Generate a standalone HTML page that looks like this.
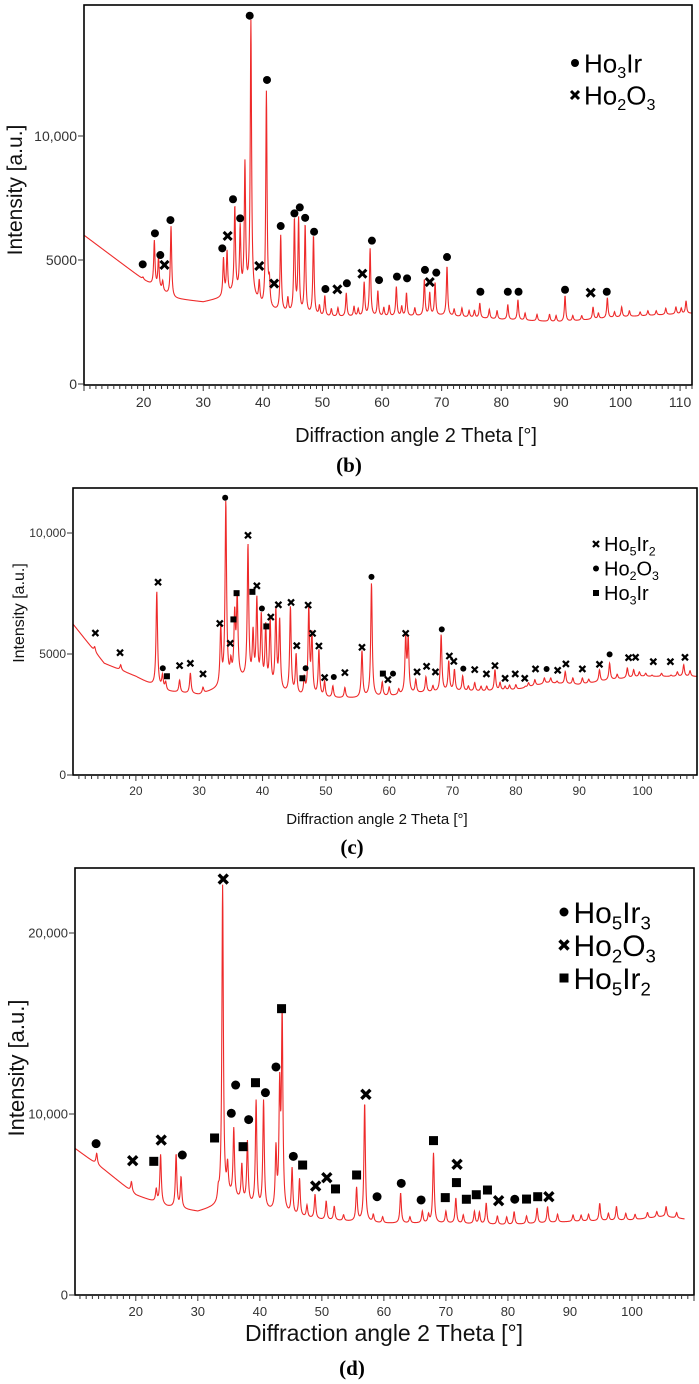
<!DOCTYPE html>
<html><head><meta charset="utf-8">
<style>
html,body{margin:0;padding:0;background:#fff;}
svg{display:block;}
text{font-family:"Liberation Sans",sans-serif;}
.ser{font-family:"Liberation Serif",serif;font-weight:bold;}
</style></head>
<body>
<svg id="fig" width="699" height="1384" viewBox="0 0 699 1384" xmlns="http://www.w3.org/2000/svg"></svg>
<script>
// ---------- Panel (b) data ----------
const bBaseX = [10,20,25,30,33,35,38,40,45,50,60,70,80,90,100,112];
const bBaseY = [6000,4200,3450,3300,3450,3650,3550,3000,2800,2700,2700,2750,2600,2500,2700,2850];
const bPeakX = [19.9,21.8,22.5,23.2,24.6,33.4,34.0,35.3,36.2,37.0,38.0,39.4,40.6,41.1,43.0,45.3,46.0,47.1,48.5,50.4,52.6,54.0,55.3,57.0,58.0,59.3,61.2,62.4,64.1,67.1,68.0,68.9,70.9,76.4,81.1,82.8,90.7,95.4,97.8,100.2,111,
  44.2,49.5,51.5,56.0,60.3,63.3,65.5,72.1,73.4,74.6,75.5,78.0,79.3,84.0,86.0,88.1,89.2,92.0,93.5,96.3,99.0,101.5,103.3,104.6,106.0,107.6,109.3,110.2];
const bPeakY = [4300,5750,5070,4100,6350,5000,5270,7080,6200,8760,14540,4000,11700,3900,5940,6550,6550,6350,5940,3520,3050,3650,3100,4060,5430,3720,3150,3900,3650,4190,3650,4060,4730,3250,3190,3390,3550,3100,3470,3100,3350,
  3400,3100,3000,3000,3050,3100,3050,3000,3050,2950,2950,3000,2950,2850,2800,2800,2750,2750,2750,2850,2900,2950,2900,2950,2950,3050,3100,3050];
const bMarkX = [19.85,21.9,22.8,23.5,24.5,33.2,34.1,35.0,36.2,37.8,39.4,40.7,41.9,43.0,45.3,46.2,47.1,48.6,50.5,52.5,54.1,56.7,58.3,59.5,62.5,64.2,67.2,68.0,69.1,70.9,76.5,81.1,82.9,90.7,95.0,97.7];
const bMarkY = [4825,6075,5200,4800,6610,5470,5970,7450,6680,14850,4760,12260,4050,6370,6880,7120,6700,6140,3830,3820,4060,4450,5780,4190,4330,4260,4600,4110,4490,5120,3720,3720,3720,3800,3680,3720];
const bMarkT = ['o','o','o','x','o','o','x','o','o','o','x','o','x','o','o','o','o','o','o','x','o','x','o','o','o','o','o','x','o','o','o','o','o','o','x','o'];
const bXTicks = [20,30,40,50,60,70,80,90,100,110];
const bYTicks = [0,5000,10000];
const bYLabels = ['0','5000','10,000'];

// ---------- Panel (c) data ----------
const cBaseX = [10,15,20,23,25,30,33,36,40,45,50,55,60,65,70,75,80,85,90,95,100,108.7];
const cBaseY = [6260,4615,4070,3650,3450,3310,3550,4000,3600,3240,3170,3170,3240,3380,3450,3450,3520,3800,3730,3930,4070,4070];
const cPeakX = [13.5,17.6,23.3,24.2,24.7,26.9,28.6,30.6,33.4,34.2,35.0,35.6,36.0,37.7,38.5,39.1,39.8,40.5,41.2,42.1,42.7,44.4,45.3,46.6,47.3,47.8,48.9,49.8,51.1,53.0,55.7,57.2,58.9,60.0,62.6,63.0,64.2,65.8,68.2,69.4,70.3,71.6,73.5,75.4,76.7,78.3,80.0,81.5,83.0,84.5,86.5,87.8,90.5,93.2,94.8,97.6,98.6,101.5,104.5,106.5,
  61.5,66.9,72.5,74.5,77.5,79.0,82.0,85.5,89.0,91.5,96.0,99.5,100.5,103.0,105.5,107.5];
const cPeakY = [5300,4550,7570,4070,3800,3900,4200,3600,5990,11210,4480,6470,7200,9400,5700,7090,6400,6000,6260,6680,6260,6880,4890,3900,6810,5650,5100,3800,3650,3590,5100,7910,3800,3600,5580,5520,3900,4030,5780,4670,4330,4070,3800,3650,4340,3650,3720,3650,3930,4000,3870,4270,4000,4340,4615,4410,4340,4120,4120,4550,
  3500,3650,3650,3650,3800,3700,3800,4000,4000,3950,4150,4250,4200,4200,4250,4300];
const cMarkX = [13.6,17.5,23.5,24.25,24.9,26.9,28.6,30.6,33.25,34.1,34.9,35.4,35.9,37.7,38.4,39.1,39.9,40.6,41.3,42.5,44.5,45.4,46.8,46.3,47.2,47.9,48.9,49.8,51.25,53.0,55.7,57.2,59.0,59.8,60.6,62.6,64.4,65.9,67.3,68.3,69.5,70.2,71.7,73.5,75.35,76.7,78.3,79.9,81.4,83.1,84.85,86.6,87.9,90.5,93.2,94.8,97.8,98.9,101.7,104.4,106.7];
const cMarkY = [5865,5055,7967,4409,4080,4519,4615,4176,6264,11456,5440,6429,7514,9904,7569,7816,6882,6140,6525,7033,7129,5343,4409,3997,7019,5852,5330,4025,4052,4231,5275,8187,4190,3942,4190,5852,4258,4492,4258,6016,4918,4698,4396,4354,4176,4519,3997,4176,3997,4382,4382,4327,4588,4382,4574,4986,4849,4863,4684,4684,4863];
const cMarkT = ['x','x','x','o','s','x','x','x','x','o','x','s','s','x','s','x','o','s','x','x','x','x','o','s','x','x','x','x','o','x','x','o','s','x','o','x','x','x','x','o','x','x','o','x','x','x','x','x','x','x','o','x','x','x','x','o','x','x','x','x','x'];
const cXTicks = [20,30,40,50,60,70,80,90,100];
const cYTicks = [0,5000,10000];
const cYLabels = ['0','5000','10,000'];

// ---------- Panel (d) data ----------
const dBaseX = [10.2,15,20,25,30,33,35,40,45,50,55,60,70,80,90,100,105,110];
const dBaseY = [8100,6900,5525,4880,4600,4880,5430,4700,4330,4140,4050,3960,3960,3870,4050,4140,4330,4140];
const dPeakX = [13.7,19.3,23.3,24.0,26.5,27.3,33.3,34.0,34.8,35.8,37.1,38.0,39.4,40.6,42.6,43.2,43.6,45.2,46.4,48.9,50.7,52.0,55.6,56.9,62.7,66.2,68.0,70.0,71.6,74.6,76.5,81.0,84.7,86.4,90.5,94.8,97.5,105.5,
  47.6,53.5,58.3,59.8,64.2,67.2,72.8,75.4,78.3,79.8,83.0,88.0,91.8,93.0,96.2,99.0,100.5,102.5,104.0,107.2];
const dPeakY = [7830,6260,5800,7730,7730,6450,5520,22560,6900,9080,7100,8380,10630,10630,7830,10920,15190,6900,6350,5520,5160,4880,5890,10590,5620,4600,7830,4600,5340,4600,5060,4600,4790,4880,4420,5060,4880,4880,
  4900,4400,4400,4300,4300,4400,4400,4550,4350,4300,4350,4450,4400,4450,4500,4500,4450,4550,4600,4550];
const dMarkX = [13.6,19.5,22.9,24.1,27.5,32.7,34.1,35.4,36.1,37.3,38.2,39.3,40.9,42.6,43.5,45.4,46.9,49.0,50.8,52.2,55.6,57.1,58.9,62.8,66.0,68.0,69.9,71.8,71.7,73.3,74.9,76.7,78.5,81.1,83.0,84.8,86.6];
const dMarkY = [8360,7420,7385,8560,7735,8675,22980,10040,11600,8195,9690,11730,11180,12600,15820,7660,7180,6020,6480,5860,6630,11090,5430,6170,5250,8530,5380,7220,6210,5290,5540,5800,5210,5290,5300,5430,5430];
const dMarkT = ['o','x','s','x','o','s','x','o','o','s','o','s','o','o','s','o','s','x','x','s','s','x','o','o','o','s','s','x','s','s','s','s','x','o','s','s','x'];
const dXTicks = [20,30,40,50,60,70,80,90,100];
const dYTicks = [0,10000,20000];
const dYLabels = ['0','10,000','20,000'];

const NS = 'http://www.w3.org/2000/svg';
const fig = document.getElementById('fig');
function mk(tag, attrs, parent){
  const e = document.createElementNS(NS, tag);
  for (const k in attrs) e.setAttribute(k, attrs[k]);
  (parent||fig).appendChild(e);
  return e;
}
function interp(xs, ys, x){
  if (x <= xs[0]) return ys[0];
  for (let i=1;i<xs.length;i++){ if (x <= xs[i]) { const t=(x-xs[i-1])/(xs[i]-xs[i-1]); return ys[i-1]+t*(ys[i]-ys[i-1]); } }
  return ys[ys.length-1];
}
function drawMarker(g, t, px, py, r){
  let m;
  if (t==='o'){ m = mk('circle',{cx:px,cy:py,r:r,fill:'#000'},g); }
  else if (t==='s'){ m = mk('rect',{x:px-r,y:py-r,width:2*r,height:2*r,fill:'#000'},g); }
  else { m = mk('path',{d:`M${px-r},${py-r}L${px+r},${py+r}M${px+r},${py-r}L${px-r},${py+r}`,stroke:'#000','stroke-width':r*0.75,fill:'none'},g); }
  
  
}
function panel(c){
  const g = mk('g',{});
  
  
  const sx = v => c.L + (v - c.x0)/(c.x1 - c.x0)*(c.R - c.L);
  const sy = v => c.B0 - v*c.ky;
  let d = '';
  for (let x = c.x0; x <= c.xEnd; x += 0.04){
    let y = interp(c.bx, c.by, x);
    for (let i=0;i<c.px.length;i++){
      const h = c.py[i] - interp(c.bx, c.by, c.px[i]);
      const u = (x - c.px[i]) / c.w;
      y += h/(1+u*u);
    }
    d += (d?'L':'M') + sx(x).toFixed(2) + ',' + sy(y).toFixed(2);
  }
  const clipId = c.name+'-clip';
  const cp = mk('clipPath',{id:clipId},g);
  mk('rect',{x:c.L,y:c.T,width:c.R-c.L,height:c.B-c.T},cp);
  const line = mk('path',{d:d,fill:'none',stroke:'#ee2a2a','stroke-width':1.1,'clip-path':`url(#${clipId})`},g);
  
  
  const fr = mk('rect',{x:c.L,y:c.T,width:c.R-c.L,height:c.B-c.T,fill:'none',stroke:'#000','stroke-width':1.6},g);
  
  
  for (let v = Math.ceil(c.x0); v <= c.x1; v++){
    const X = sx(v);
    mk('line',{x1:X,y1:c.B,x2:X,y2:c.B+(v%10===0?6:4),stroke:'#333','stroke-width':1},g);
  }
  c.xt.forEach(v=>{
    const t = mk('text',{x:sx(v),y:c.B+c.tf+8,'font-size':c.tf,'text-anchor':'middle',fill:'#333'},g);
    t.textContent = v;
    
    
  });
  c.yt.forEach((v,i)=>{
    const Y = sy(v);
    mk('line',{x1:c.L-6,y1:Y,x2:c.L,y2:Y,stroke:'#333','stroke-width':1},g);
    const t = mk('text',{x:c.L-7,y:Y+c.tf*0.35,'font-size':c.tf,'text-anchor':'end',fill:'#333'},g);
    t.textContent = c.yl[i];
    
    
  });
  for (let i=0;i<c.mx.length;i++) drawMarker(g, c.mt[i], sx(c.mx[i]), sy(c.my[i]), c.mr);
  const xt = mk('text',{x:c.xtx,y:c.xty,'font-size':c.xtf,'text-anchor':'middle',fill:'#111'},g);
  xt.textContent = 'Diffraction angle 2 Theta [°]';
  
  
  const yt = mk('text',{x:0,y:0,'font-size':c.ytf,'text-anchor':'middle',fill:'#111',transform:`translate(${c.ytx},${c.yty}) rotate(-90)`},g);
  yt.textContent = 'Intensity [a.u.]';
  
  
  const pl = mk('text',{x:c.plx,y:c.ply,'font-size':21,'text-anchor':'middle',fill:'#000','class':'ser'},g);
  pl.textContent = c.label;
  
  
  c.leg.forEach((e,i)=>{
    const Y = c.lgy + i*c.lgd;
    drawMarker(g, e[0], c.lgx, Y, c.lmr);
    const t = mk('text',{x:c.lgx+c.lmr+5,y:Y+c.lgf*0.36,'font-size':c.lgf,fill:'#000'},g);
    
    
    e[1].forEach(p=>{
      const s = mk('tspan',p[1]?{'font-size':c.lgf*0.62,dy:c.lgf*0.22}:{dy:p[2]||0},t);
      s.textContent = p[0];
    });
  });
}
function lg(base,n1,mid,n2){
  const arr=[[base,false]]; arr.push([n1,true]);
  if (mid){ arr.push([mid,false]); }
  if (n2){ arr.push([n2,true]); }
  return arr;
}
function legParts(parts){
  const out=[]; let shifted=false;
  parts.forEach(p=>{
    if (p[1]){ out.push([p[0],true]); shifted=true; }
    else { out.push([p[0],false, shifted? 'BACK':0]); shifted=false; }
  });
  return out;
}
function finalize(c){
  c.leg = c.leg.map(e=>[e[0], legParts(e[1]).map(p=>[p[0],p[1], p[2]==='BACK'? -c.lgf*0.22 : 0])]);
  return c;
}
panel(finalize({name:'panel-b',label:'(b)',L:84,R:692,T:5,B:385,B0:384,ky:248/10000,x0:10,x1:112,xEnd:112,w:0.13,
  bx:bBaseX,by:bBaseY,px:bPeakX,py:bPeakY,mx:bMarkX,my:bMarkY,mt:bMarkT,xt:bXTicks,yt:bYTicks,yl:bYLabels,
  tf:14,mr:4,xtx:416,xty:442,xtf:20,ytx:22,yty:190,ytf:21,plx:349,ply:472,
  lgx:575,lgy:63,lgd:32,lgf:26,lmr:4,
  leg:[['o',lg('Ho','3','Ir')],['x',lg('Ho','2','O','3')]]}));
panel(finalize({name:'panel-c',label:'(c)',L:73,R:697,T:488,B:775,B0:775,ky:242/10000,x0:10.07,x1:108.6,xEnd:108.6,w:0.14,
  bx:cBaseX,by:cBaseY,px:cPeakX,py:cPeakY,mx:cMarkX,my:cMarkY,mt:cMarkT,xt:cXTicks,yt:cYTicks,yl:cYLabels,
  tf:12,mr:3,xtx:377,xty:824,xtf:15,ytx:24,yty:613,ytf:16,plx:352,ply:854,
  lgx:596,lgy:544,lgd:24.5,lgf:20,lmr:3,
  leg:[['x',lg('Ho','5','Ir','2')],['o',lg('Ho','2','O','3')],['s',lg('Ho','3','Ir')]]}));
panel(finalize({name:'panel-d',label:'(d)',L:75,R:694,T:868,B:1295,B0:1295,ky:181/10000,x0:10.2,x1:110,xEnd:108.5,w:0.14,
  bx:dBaseX,by:dBaseY,px:dPeakX,py:dPeakY,mx:dMarkX,my:dMarkY,mt:dMarkT,xt:dXTicks,yt:dYTicks,yl:dYLabels,
  tf:13,mr:4.5,xtx:384,xty:1341,xtf:23,ytx:24,yty:1068,ytf:22,plx:352,ply:1375,
  lgx:564,lgy:912,lgd:33,lgf:30,lmr:4.5,
  leg:[['o',lg('Ho','5','Ir','3')],['x',lg('Ho','2','O','3')],['s',lg('Ho','5','Ir','2')]]}));
</script>
</body></html>
